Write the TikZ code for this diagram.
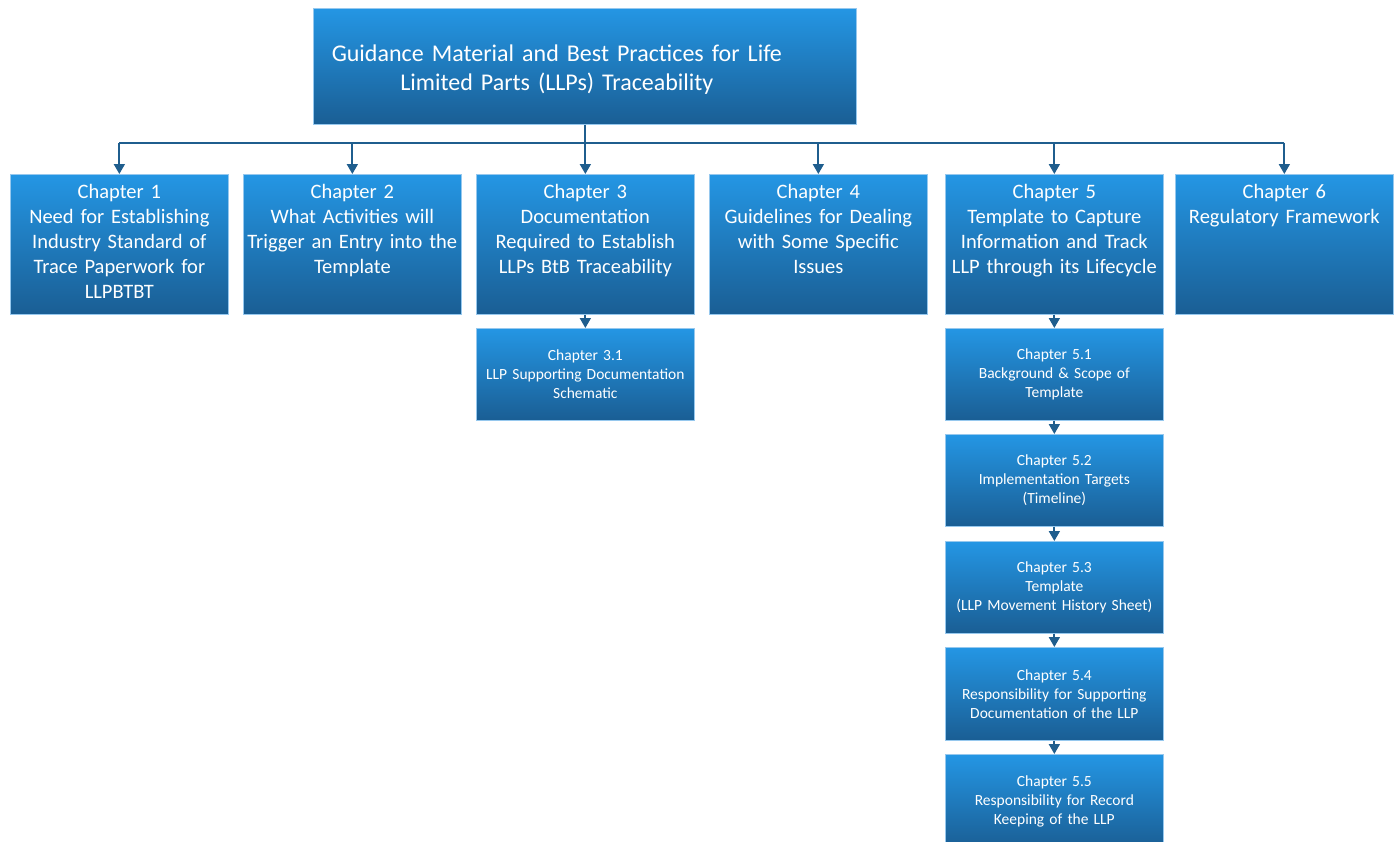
\documentclass[tikz,border=0pt]{standalone}
\usepackage{fontspec}
\setmainfont{Carlito}
\usetikzlibrary{arrows.meta}
\definecolor{boxtop}{RGB}{36,150,228}
\definecolor{boxbot}{RGB}{26,94,148}
\definecolor{boxedge}{RGB}{150,200,238}
\definecolor{conn}{RGB}{31,94,142}
\tikzset{
  box/.style={rectangle, inner sep=0pt, anchor=north west, top color=boxtop, bottom color=boxbot, draw=boxedge, line width=0.7pt},
  chbox/.style={box, minimum width=218pt, minimum height=140pt},
  subbox/.style={box, minimum width=218pt, minimum height=92pt, text width=214pt, align=center, text=white, font=\fontsize{15.5}{19}\selectfont},
  chtext/.style={anchor=north, inner sep=0pt, text width=216pt, align=center, text=white, font=\fontsize{20.5}{25}\selectfont},
  titlebox/.style={box, minimum width=543pt, minimum height=116pt},
  titletext/.style={inner sep=0pt, text width=530pt, align=center, text=white, font=\fontsize{24}{29}\selectfont},
  conn/.style={draw=conn, line width=1.8pt, -{Triangle[width=11pt,length=10pt]}},
  bus/.style={draw=conn, line width=1.8pt}
}
\begin{document}
\begin{tikzpicture}[x=1pt,y=-1pt]
\clip (0,0) rectangle (1395,841);
\fill[white] (0,0) rectangle (1395,841);
% title
\node[titlebox] (top) at (313,8) {};
\node[titletext] (toptext) at ([xshift=-28pt,yshift=-3pt]top.center) {Guidance Material and Best Practices for Life\\Limited Parts (LLPs) Traceability};
% chapters
\node[chbox] (c1) at (10,174) {};
\node[chbox] (c2) at (243,174) {};
\node[chbox] (c3) at (476,174) {};
\node[chbox] (c4) at (709,174) {};
\node[chbox] (c5) at (945,174) {};
\node[chbox] (c6) at (1175,174) {};
\node[chtext] (t1) at ([yshift=-10pt]c1.north) {Chapter 1\\Need for Establishing\\Industry Standard of\\Trace Paperwork for\\LLPBTBT};
\node[chtext] (t2) at ([yshift=-10pt]c2.north) {Chapter 2\\What Activities will\\Trigger an Entry into the\\Template};
\node[chtext] (t3) at ([yshift=-10pt]c3.north) {Chapter 3\\Documentation\\Required to Establish\\LLPs BtB Traceability};
\node[chtext] (t4) at ([yshift=-10pt]c4.north) {Chapter 4\\Guidelines for Dealing\\with Some Specific\\Issues};
\node[chtext] (t5) at ([yshift=-10pt]c5.north) {Chapter 5\\Template to Capture\\Information and Track\\LLP through its Lifecycle};
\node[chtext] (t6) at ([yshift=-10pt]c6.north) {Chapter 6\\Regulatory Framework};
% sub boxes
\node[subbox] (c31) at (476,328) {Chapter 3.1\\LLP Supporting Documentation\\Schematic};
\node[subbox] (c51) at (945,328) {Chapter 5.1\\Background \& Scope of\\Template};
\node[subbox] (c52) at (945,434) {Chapter 5.2\\Implementation Targets\\(Timeline)};
\node[subbox] (c53) at (945,541) {Chapter 5.3\\Template\\(LLP Movement History Sheet)};
\node[subbox, minimum height=93pt] (c54) at (945,647) {Chapter 5.4\\Responsibility for Supporting\\Documentation of the LLP};
\node[subbox, minimum height=94pt] (c55) at (945,754) {Chapter 5.5\\Responsibility for Record\\Keeping of the LLP};
% connectors
\coordinate (bus) at ([yshift=-18pt]top.south);
\draw[bus] (top.south) -- (bus);
\draw[bus] (c1.north |- bus) -- (c6.north |- bus);
\foreach \c in {c1,c2,c3,c4,c5,c6}{
  \draw[conn] (\c.north |- bus) -- (\c.north);
}
\draw[conn] (c3.south) -- (c31.north);
\draw[conn] (c5.south) -- (c51.north);
\draw[conn] (c51.south) -- (c52.north);
\draw[conn] (c52.south) -- (c53.north);
\draw[conn] (c53.south) -- (c54.north);
\draw[conn] (c54.south) -- (c55.north);
\end{tikzpicture}
\end{document}
